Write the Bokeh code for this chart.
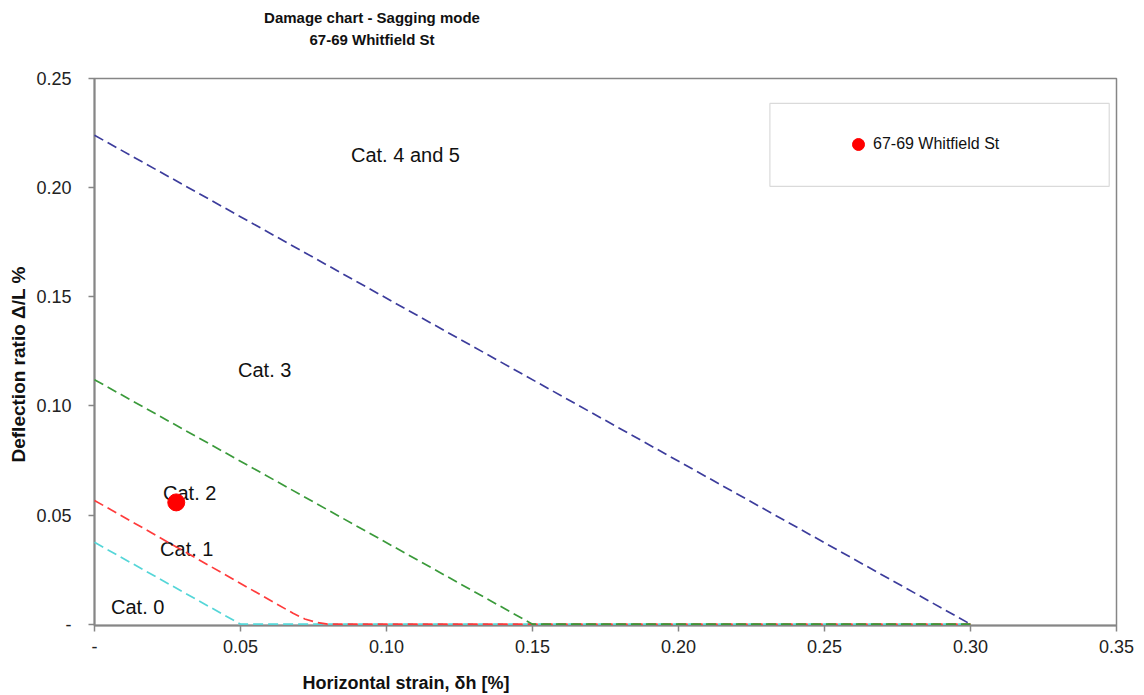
from bokeh.plotting import figure
from bokeh.layouts import column
from bokeh.models import (FixedTicker, Title, Div, BoxAnnotation, Legend, LegendItem,
                          Range1d, ColumnDataSource)
from bokeh.core.properties import value
from bokeh.embed import file_html
from bokeh.resources import INLINE

# ---- chart text -------------------------------------------------------------
title_line1 = "Damage chart - Sagging mode"
title_line2 = "67-69 Whitfield St"
x_label = "Horizontal strain, \u03b4h [%]"
y_label = "Deflection ratio \u0394/L %"

# ---- axes -------------------------------------------------------------------
x_ticks = [0.0, 0.05, 0.10, 0.15, 0.20, 0.25, 0.30, 0.35]
x_tick_labels = ["-", "0.05", "0.10", "0.15", "0.20", "0.25", "0.30", "0.35"]
y_ticks = [0.0, 0.05, 0.10, 0.15, 0.20, 0.25]
y_tick_labels = ["-", "0.05", "0.10", "0.15", "0.20", "0.25"]

# ---- damage category boundaries (strain %, deflection ratio %) -------------
cat0_x = [0.0, 0.05, 0.30]
cat0_y = [0.0375, 0.0, 0.0]
cat1_x = [0.0, 0.068, 0.072, 0.076, 0.080, 0.30]
cat1_y = [0.0567, 0.0050, 0.0024, 0.0008, 0.0, 0.0]
cat2_x = [0.0, 0.15, 0.30]
cat2_y = [0.112, 0.0, 0.0]
cat3_x = [0.0, 0.30]
cat3_y = [0.224, 0.0]

# ---- category labels --------------------------------------------------------
region_names = ["Cat. 0", "Cat. 1", "Cat. 2", "Cat. 3", "Cat. 4 and 5"]
region_x = [0.0148, 0.0316, 0.0326, 0.0583, 0.1065]
region_y = [0.0078, 0.0343, 0.0603, 0.1165, 0.2148]

# ---- assessed building ------------------------------------------------------
building = ["67-69 Whitfield St"]
building_strain = [0.028]
building_deflection = [0.0558]

FONT = "Liberation Sans"
GREY = "#868686"
INK = "#111111"

HEADER_H = 52
FOOTER_H = 30
TOTAL_W, TOTAL_H = 1144, 695

# two-line chart title
header = Div(
    text=(f'<div style="width:744px;text-align:center;padding-top:7px;'
          f'line-height:22px;font-family:\'{FONT}\';font-weight:bold;'
          f'font-size:15px;color:{INK};">{title_line1}<br>{title_line2}</div>'),
    width=TOTAL_W, height=HEADER_H, margin=0)

# x-axis title
footer = Div(
    text=(f'<div style="width:812px;text-align:center;padding-top:8px;'
          f'line-height:20px;font-family:\'{FONT}\';font-weight:bold;'
          f'font-size:18px;color:{INK};">{x_label}</div>'),
    width=TOTAL_W, height=FOOTER_H, margin=0)

p = figure(width=TOTAL_W, height=TOTAL_H - HEADER_H - FOOTER_H,
           x_range=Range1d(0, 0.35), y_range=Range1d(-0.0006, 0.25),
           output_backend="svg", toolbar_location=None, margin=0,
           min_border_left=94, min_border_right=28,
           min_border_top=78 - HEADER_H, min_border_bottom=40)
p.background_fill_color = "white"
p.border_fill_color = "white"
p.outline_line_color = GREY
p.outline_line_width = 1.5
p.xgrid.visible = False
p.ygrid.visible = False

for ax, ticks, labels in ((p.xaxis[0], x_ticks, x_tick_labels),
                          (p.yaxis[0], y_ticks, y_tick_labels)):
    ax.ticker = FixedTicker(ticks=ticks)
    ax.major_label_overrides = {t: l for t, l in zip(ticks, labels)}
    ax.axis_line_color = GREY
    ax.axis_line_width = 2
    ax.major_tick_line_color = GREY
    ax.major_tick_line_width = 1.5
    ax.major_tick_in = 0
    ax.major_tick_out = 6
    ax.minor_tick_line_color = None
    ax.major_label_text_font = FONT
    ax.major_label_text_font_size = "18px"
    ax.major_label_text_color = "#222222"

p.yaxis.major_label_standoff = 17
p.xaxis.major_label_standoff = 8

# y-axis title, shifted up from the lower end of the frame
p.add_layout(Title(text=y_label, align="left", offset=163, standoff=10,
                   text_font=FONT, text_font_size="19px", text_font_style="bold",
                   text_color=INK), "left")

# boundary lines, drawn above the axes so the zero segments stay visible
dash = "10 5"
for xs, ys, col in ((cat3_x, cat3_y, "#3c3c9c"),
                    (cat0_x, cat0_y, "#55d6d8"),
                    (cat1_x, cat1_y, "#ff3b3b"),
                    (cat2_x, cat2_y, "#3a9a3a")):
    r = p.line(xs, ys, line_color=col, line_width=1.7, line_dash=dash)
    r.level = "overlay"

# category names
p.text(x=region_x, y=region_y, text=region_names,
       text_font=value(FONT), text_font_size="20px", text_color=INK,
       text_align="center", text_baseline="middle")

# building point
src = ColumnDataSource(dict(x=building_strain, y=building_deflection, name=building))
pt = p.scatter("x", "y", source=src, size=17, fill_color="#ff0000",
               line_color="#ff0000")

# legend frame and entry
p.add_layout(BoxAnnotation(left=0.2313, right=0.3475, bottom=0.2006, top=0.2386,
                           fill_color="white", fill_alpha=1.0,
                           line_color=GREY, line_width=1.2))
legend = Legend(items=[LegendItem(label=building[0], renderers=[pt])],
                location=(749, 466), border_line_color=None,
                background_fill_alpha=0, glyph_width=30, glyph_height=30,
                label_standoff=0, padding=0, margin=0,
                label_text_font=FONT, label_text_font_size="16px",
                label_text_color=INK)
p.add_layout(legend, "center")

page = column(header, p, footer, spacing=0, margin=0)
open("out.html", "w").write(file_html(page, INLINE))
